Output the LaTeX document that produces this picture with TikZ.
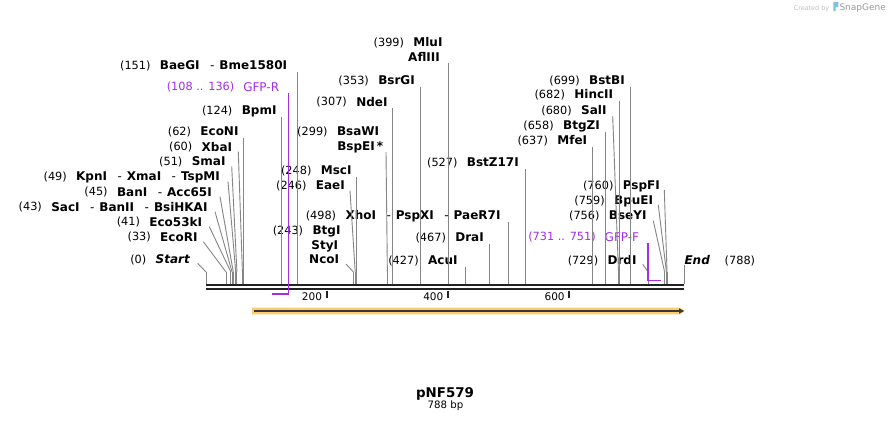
\documentclass[tikz,border=0pt]{standalone}
\usepackage{fontspec}
\setmainfont{DejaVu Sans}
\usetikzlibrary{calc,arrows.meta}
\definecolor{gfp}{RGB}{162,44,236}
\definecolor{feat}{RGB}{252,204,112}
\definecolor{bbone}{RGB}{34,34,34}
\definecolor{logo}{RGB}{125,195,232}
\newcommand\sitesep{\hspace{10.5pt}{\mdseries -}\hspace{5pt}}

\begin{document}
\begin{tikzpicture}[x=1pt,y=-1pt,
    enz/.style={anchor=east,inner sep=0pt,text height=8.7pt,text depth=0pt,font=\fontsize{12}{14}\selectfont\bfseries},
    num/.style={anchor=east,inner sep=0pt,text height=8.2pt,text depth=0pt,font=\fontsize{11.3}{13}\selectfont},
    leader/.style={draw=black!48,line width=0.9pt},
    primer/.style={draw=gfp,line width=1.8pt},
    bbline/.style={draw=bbone,line width=2.4pt},
    tick/.style={draw=bbone,line width=2pt},
    ticklbl/.style={anchor=base east,inner sep=0pt,font=\fontsize{10.5}{12}\selectfont}]
    \path[fill=white] (0,0) rectangle (891,423);

    \node[enz] (start) at (190,259.3) {\itshape Start};
    \node[num] (start-n) at ($(start.west)+(-9,0)$) {(0)};
    \node[enz] (ecori) at (197.7,236.7) {EcoRI};
    \node[num] (ecori-n) at ($(ecori.west)+(-9,0)$) {(33)};
    \node[enz] (eco53ki) at (202.3,221.7) {Eco53kI};
    \node[num] (eco53ki-n) at ($(eco53ki.west)+(-9,0)$) {(41)};
    \node[enz] (saci) at (207.7,206.7) {SacI\sitesep BanII\sitesep BsiHKAI};
    \node[num] (saci-n) at ($(saci.west)+(-9,0)$) {(43)};
    \node[enz] (bani) at (212,191.7) {BanI\sitesep Acc65I};
    \node[num] (bani-n) at ($(bani.west)+(-9,0)$) {(45)};
    \node[enz] (kpni) at (220,176) {KpnI\sitesep XmaI\sitesep TspMI};
    \node[num] (kpni-n) at ($(kpni.west)+(-9,0)$) {(49)};
    \node[enz] (smai) at (225.7,161) {SmaI};
    \node[num] (smai-n) at ($(smai.west)+(-9,0)$) {(51)};
    \node[enz] (xbai) at (232.3,146.7) {XbaI};
    \node[num] (xbai-n) at ($(xbai.west)+(-9,0)$) {(60)};
    \node[enz] (econi) at (238.7,131) {EcoNI};
    \node[num] (econi-n) at ($(econi.west)+(-9,0)$) {(62)};
    \node[enz] (bpmi) at (276.7,110) {BpmI};
    \node[num] (bpmi-n) at ($(bpmi.west)+(-9,0)$) {(124)};
    \node[enz,font=\fontsize{12}{14}\selectfont,text=gfp] (gfpr) at (279.3,86.7) {GFP-R};
    \node[num,text=gfp] (gfpr-n) at ($(gfpr.west)+(-8.5,0)$) {(108 .. 136)};
    \node[enz] (baegi) at (287.3,65) {BaeGI\sitesep Bme1580I};
    \node[num] (baegi-n) at ($(baegi.west)+(-9,0)$) {(151)};

    \node[enz] (btgi) at (340.7,230) {BtgI};
    \node[num] (btgi-n) at ($(btgi.west)+(-9,0)$) {(243)};
    \node[enz] (styi) at (338.3,245) {StyI};
    \node[enz] (ncoi) at (339.3,259.3) {NcoI};
    \node[enz] (eaei) at (345,185) {EaeI};
    \node[num] (eaei-n) at ($(eaei.west)+(-9,0)$) {(246)};
    \node[enz] (msci) at (351.7,170) {MscI};
    \node[num] (msci-n) at ($(msci.west)+(-9,0)$) {(248)};
    \node[enz] (bsawi) at (379.3,131) {BsaWI};
    \node[num] (bsawi-n) at ($(bsawi.west)+(-9,0)$) {(299)};
    \node[enz] (bspei) at (383.3,146) {BspEI\,*};
    \node[enz] (ndei) at (387.7,101.7) {NdeI};
    \node[num] (ndei-n) at ($(ndei.west)+(-9,0)$) {(307)};
    \node[enz] (bsrgi) at (415,80) {BsrGI};
    \node[num] (bsrgi-n) at ($(bsrgi.west)+(-9,0)$) {(353)};
    \node[enz] (mlui) at (442.7,42.3) {MluI};
    \node[num] (mlui-n) at ($(mlui.west)+(-9,0)$) {(399)};
    \node[enz] (afliii) at (440,56.7) {AflIII};
    \node[enz] (acui) at (457.7,260) {AcuI};
    \node[num] (acui-n) at ($(acui.west)+(-9,0)$) {(427)};
    \node[enz] (drai) at (484,237.3) {DraI};
    \node[num] (drai-n) at ($(drai.west)+(-9,0)$) {(467)};
    \node[enz] (xhoi) at (500.7,215) {XhoI\sitesep PspXI\sitesep PaeR7I};
    \node[num] (xhoi-n) at ($(xhoi.west)+(-9,0)$) {(498)};
    \node[enz] (bstz) at (519,162.3) {BstZ17I};
    \node[num] (bstz-n) at ($(bstz.west)+(-9,0)$) {(527)};

    \node[enz] (mfei) at (587.3,140) {MfeI};
    \node[num] (mfei-n) at ($(mfei.west)+(-9,0)$) {(637)};
    \node[enz] (btgzi) at (600,125) {BtgZI};
    \node[num] (btgzi-n) at ($(btgzi.west)+(-9,0)$) {(658)};
    \node[enz] (sali) at (606.7,110) {SalI};
    \node[num] (sali-n) at ($(sali.west)+(-9,0)$) {(680)};
    \node[enz] (hincii) at (613.3,94.3) {HincII};
    \node[num] (hincii-n) at ($(hincii.west)+(-9,0)$) {(682)};
    \node[enz] (bstbi) at (625,80) {BstBI};
    \node[num] (bstbi-n) at ($(bstbi.west)+(-9,0)$) {(699)};
    \node[enz] (drdi) at (636.7,260) {DrdI};
    \node[num] (drdi-n) at ($(drdi.west)+(-9,0)$) {(729)};
    \node[enz,font=\fontsize{12}{14}\selectfont,text=gfp] (gfpf) at (639.3,236.7) {GFP-F};
    \node[num,text=gfp] (gfpf-n) at ($(gfpf.west)+(-8.5,0)$) {(731 .. 751)};
    \node[enz] (bseyi) at (646.7,215) {BseYI};
    \node[num] (bseyi-n) at ($(bseyi.west)+(-9,0)$) {(756)};
    \node[enz] (bpuei) at (653.3,200) {BpuEI};
    \node[num] (bpuei-n) at ($(bpuei.west)+(-9,0)$) {(759)};
    \node[enz] (pspfi) at (660,185) {PspFI};
    \node[num] (pspfi-n) at ($(pspfi.west)+(-9,0)$) {(760)};
    \node[enz,anchor=west] (endl) at (684.3,260) {\itshape End};
    \node[num,anchor=west] (endl-n) at ($(endl.east)+(14.5,0)$) {(788)};

    \coordinate (bb) at (206,284);
    \foreach \p in {0,33,41,43,45,49,51,60,62,124,151,243,246,248,299,307,353,399,427,467,498,527,637,658,680,682,699,729,756,759,760,788} {
        \coordinate (s\p) at ({206+0.6066*\p},272);
        \draw[leader] (s\p) -- (s\p |- bb);
    }
    \foreach \l/\p/\dx/\dy in {start/0/7.7/4,ecori/33/5.6/5,eco53ki/41/7/5,saci/43/7.3/5,bani/45/8/5,kpni/49/8/5.7,smai/51/6/5.3,xbai/60/6/5,eaei/246/5/5.7,ncoi/243/6.7/4.7,bspei/299/2.7/6,sali/680/6/6,drdi/729/6/4.3,bseyi/756/6.6/5.7,bpuei/759/5/5,pspfi/760/4.3/5}
        \draw[leader] ($(\l.east)+(\dx,\dy)$) -- (s\p);
    \foreach \l/\p in {econi/62,bpmi/124,baegi/151,msci/248,ndei/307,bsrgi/353,afliii/399,acui/427,drai/467,xhoi/498,bstz/527,mfei/637,btgzi/658,hincii/682,bstbi/699}
        \draw[leader] ($(\l.east -| s\p)+(0,6.5)$) -- (s\p);
    \draw[leader] ($(endl.west -| s788)+(0,5)$) -- (s788);

    \coordinate (bbl) at (206,285.2);
    \coordinate (bbr) at (684,285.2);
    \draw[bbline] (bbl) -- (bbr);
    \draw[bbline] ($(bbl)+(0,4)$) -- ($(bbr)+(0,4)$);
    \foreach \t in {200,400,600} {
        \coordinate (t\t) at ({205.2+0.6066*\t},290.5);
        \draw[tick] (t\t) -- ++(0,7);
        \node[ticklbl] (tl\t) at ($(t\t)+(-4.3,9.5)$) {\t};
    }

    \coordinate (p108) at ({206+0.6066*108},294);
    \coordinate (p136) at ({206+0.6066*136},294);
    \draw[primer] ($(gfpr.east -| p136)+(0,6)$) -- (p136) -- (p108);
    \coordinate (p731) at (647.7,280.5);
    \coordinate (p751) at (660.5,280.5);
    \draw[primer] ($(gfpf.east -| p731)+(0,6)$) -- (p731) -- (p751);

    \coordinate (f0) at (252,311);
    \coordinate (f1) at (684,311);
    \fill[feat] (252,307.6) -- (680,307.6) -- (685,311) -- (680,314.4) -- (252,314.4) -- cycle;
    \draw[bbone!90,line width=1.7pt,-{Triangle[length=5pt,width=5pt]}] ($(f0)+(1.5,0)$) -- (f1);

    \node[anchor=base,inner sep=0pt,font=\fontsize{13.4}{15}\selectfont\bfseries] (title) at (445,397.3) {pNF579};
    \node[anchor=base,inner sep=0pt,font=\fontsize{10.2}{12}\selectfont] (len) at (445.5,408.3) {788 bp};

    \node[anchor=base east,inner sep=0pt,text=black!25,font=\fontsize{6.4}{8}\selectfont] (wm1) at (829.3,10) {Created by};
    \fill[logo] (833.3,2) -- (838.3,2) -- (838.3,7) -- (835.6,7) -- (835.6,11) -- (833.3,11) -- cycle;
    \node[anchor=base west,inner sep=0pt,text=black!40,font=\fontsize{9}{10}\selectfont] (wm2) at (839.3,10) {SnapGene};
\end{tikzpicture}
\end{document}
